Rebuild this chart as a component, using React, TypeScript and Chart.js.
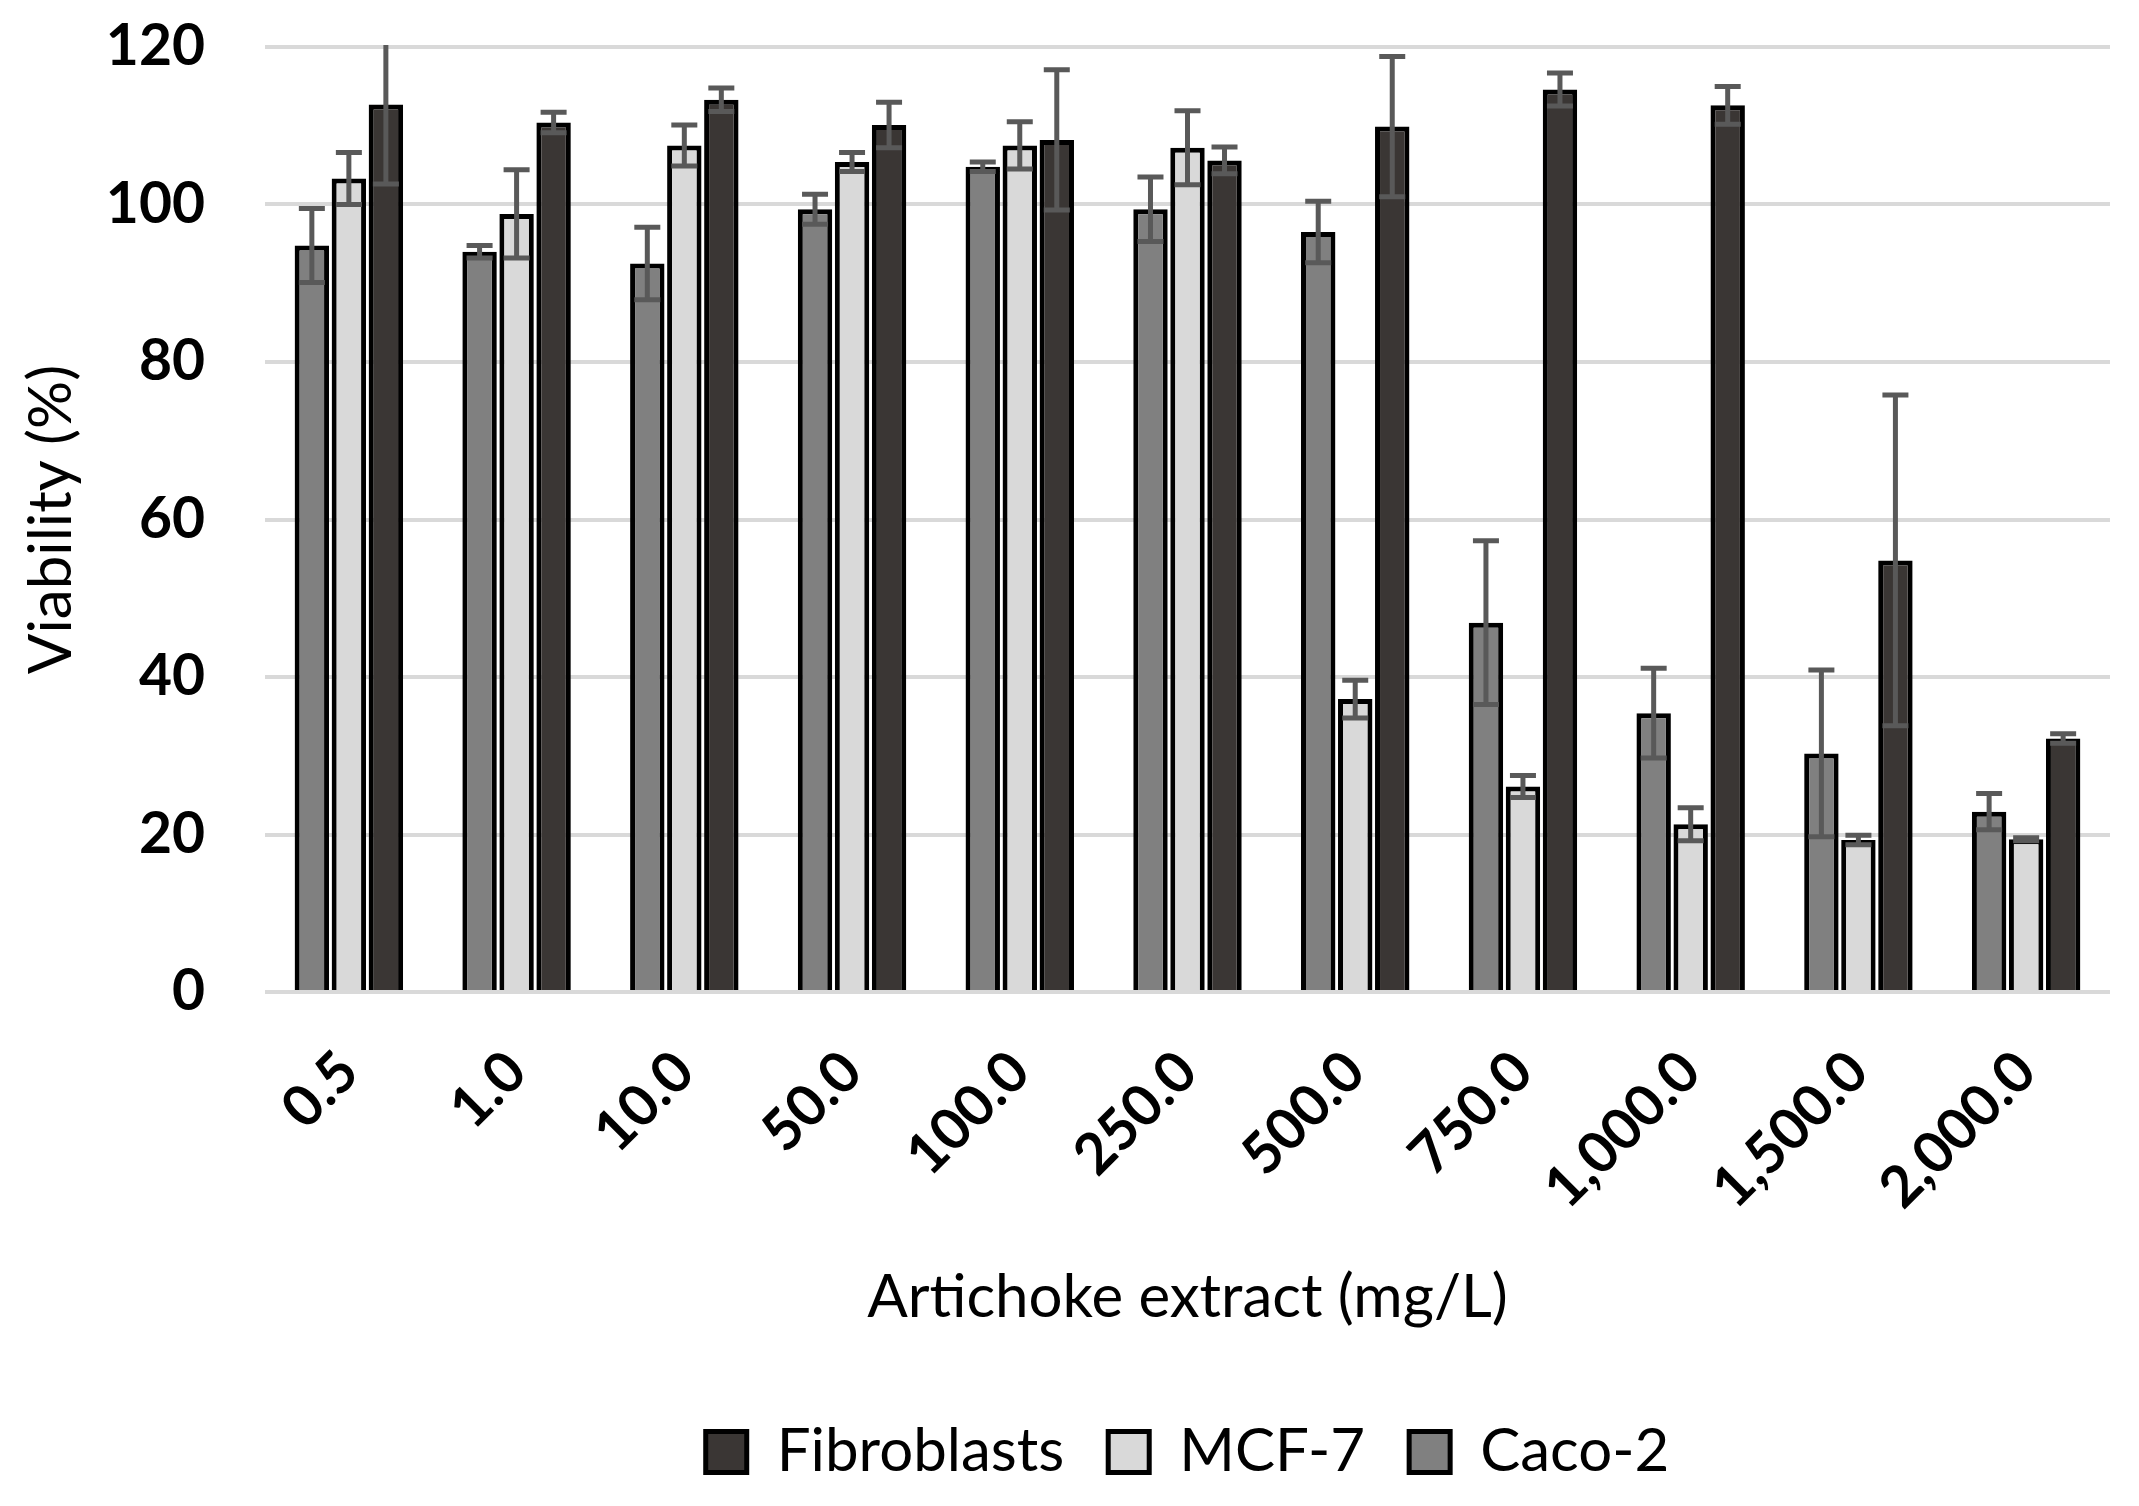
import React, { useEffect, useRef } from "react";
import { Chart, registerables } from "chart.js";

Chart.register(...registerables);

const categories = ["0.5", "1.0", "10.0", "50.0", "100.0", "250.0", "500.0", "750.0", "1,000.0", "1,500.0", "2,000.0"];

const cacoValues = [94.8, 94.0, 92.5, 99.4, 104.8, 99.4, 96.5, 46.9, 35.4, 30.3, 22.9];
const cacoErrors = [4.7, 0.8, 4.6, 1.9, 0.6, 4.1, 3.9, 10.4, 5.7, 10.6, 2.3];

const mcfValues = [103.3, 98.8, 107.5, 105.4, 107.5, 107.2, 37.2, 26.1, 21.3, 19.3, 19.4];
const mcfErrors = [3.3, 5.6, 2.6, 1.2, 3.0, 4.7, 2.4, 1.4, 2.1, 0.6, 0.2];

const fibroValues = [112.7, 110.4, 113.3, 110.1, 108.2, 105.6, 109.9, 114.6, 112.6, 54.8, 32.2];
const fibroErrors = [10.1, 1.3, 1.5, 2.9, 8.9, 1.7, 8.9, 2.1, 2.4, 21.0, 0.6];

const yTicks = [0, 20, 40, 60, 80, 100, 120];

const FONT = "Lato, 'Open Sans', sans-serif";

const errorBarPlugin = {
  id: "errorBars",
  afterDatasetsDraw(chart: any) {
    const { ctx, chartArea } = chart;
    const yScale = chart.scales.y;
    ctx.save();
    ctx.beginPath();
    ctx.rect(chartArea.left, chartArea.top - 2, chartArea.right - chartArea.left, chartArea.bottom - chartArea.top + 2);
    ctx.clip();
    ctx.strokeStyle = "#595959";
    ctx.lineWidth = 5;
    chart.data.datasets.forEach((ds: any, i: number) => {
      const meta = chart.getDatasetMeta(i);
      if (meta.hidden) return;
      meta.data.forEach((el: any, j: number) => {
        const v = ds.data[j];
        const e = ds.errors[j];
        if (!e) return;
        const x = el.x;
        const yt = yScale.getPixelForValue(v + e);
        const yb = yScale.getPixelForValue(v - e);
        const cap = 13;
        ctx.beginPath();
        ctx.moveTo(x, yt);
        ctx.lineTo(x, yb);
        ctx.moveTo(x - cap, yt);
        ctx.lineTo(x + cap, yt);
        ctx.moveTo(x - cap, yb);
        ctx.lineTo(x + cap, yb);
        ctx.stroke();
      });
    });
    ctx.restore();
  },
};

export default function App() {
  const canvasRef = useRef<HTMLCanvasElement | null>(null);

  useEffect(() => {
    document.body.style.margin = "0";
    let chart: Chart | null = null;
    let cancelled = false;

    const build = () => {
      if (cancelled || !canvasRef.current) return;
      const barCommon = {
        borderColor: "#000000",
        borderWidth: 5,
        borderSkipped: "start" as const,
        categoryPercentage: 0.662,
        barPercentage: 0.93,
      };
      chart = new Chart(canvasRef.current, {
        type: "bar",
        data: {
          labels: categories,
          datasets: [
            { label: "Caco-2", data: cacoValues, errors: cacoErrors, backgroundColor: "#808080", ...barCommon } as any,
            { label: "MCF-7", data: mcfValues, errors: mcfErrors, backgroundColor: "#d9d9d9", ...barCommon } as any,
            { label: "Fibroblasts", data: fibroValues, errors: fibroErrors, backgroundColor: "#3a3634", ...barCommon } as any,
          ],
        },
        options: {
          responsive: false,
          animation: false,
          devicePixelRatio: 1,
          layout: { padding: { top: 47, right: 29, bottom: 14, left: 0 } },
          plugins: {
            tooltip: { enabled: false },
            legend: {
              position: "bottom",
              fullSize: false,
              reverse: true,
              labels: {
                boxWidth: 41,
                boxHeight: 41,
                padding: 44,
                color: "#000",
                font: { family: FONT, size: 60 },
              },
            },
          },
          scales: {
            x: {
              grid: { display: false, drawTicks: false },
              border: { display: false },
              ticks: {
                autoSkip: false,
                minRotation: 45,
                maxRotation: 45,
                padding: 46,
                color: "#000",
                font: { family: FONT, size: 57, weight: "bold" },
              },
              title: {
                display: true,
                text: "Artichoke extract (mg/L)",
                color: "#000",
                font: { family: FONT, size: 60 },
                padding: { top: 0, bottom: 44 },
              },
              afterFit: (scale: any) => {
                scale.height = 386;
              },
            },
            y: {
              min: 0,
              max: 120,
              afterBuildTicks: (scale: any) => {
                scale.ticks = yTicks.map((v) => ({ value: v }));
              },
              grid: {
                color: "#d9d9d9",
                lineWidth: 4,
                drawTicks: true,
                tickLength: 60,
                tickColor: "rgba(0,0,0,0)",
              },
              border: { display: false },
              ticks: {
                padding: 0,
                color: "#000",
                font: { family: FONT, size: 57, weight: "bold" },
              },
              title: {
                display: true,
                text: "Viability (%)",
                color: "#000",
                font: { family: FONT, size: 60 },
                padding: { top: 16, bottom: 0 },
              },
              afterFit: (scale: any) => {
                scale.width = 265;
              },
            },
          },
        },
        plugins: [errorBarPlugin],
      });
    };

    const fontsReady = (document as any).fonts
      ? Promise.all([
          (document as any).fonts.load(`60px Lato`),
          (document as any).fonts.load(`bold 57px Lato`),
        ]).catch(() => null)
      : Promise.resolve(null);
    fontsReady.then(build);

    return () => {
      cancelled = true;
      if (chart) chart.destroy();
    };
  }, []);

  return (
    <div style={{ width: 2139, height: 1506, background: "#fff" }}>
      <canvas ref={canvasRef} width={2139} height={1506} style={{ display: "block" }} />
    </div>
  );
}
